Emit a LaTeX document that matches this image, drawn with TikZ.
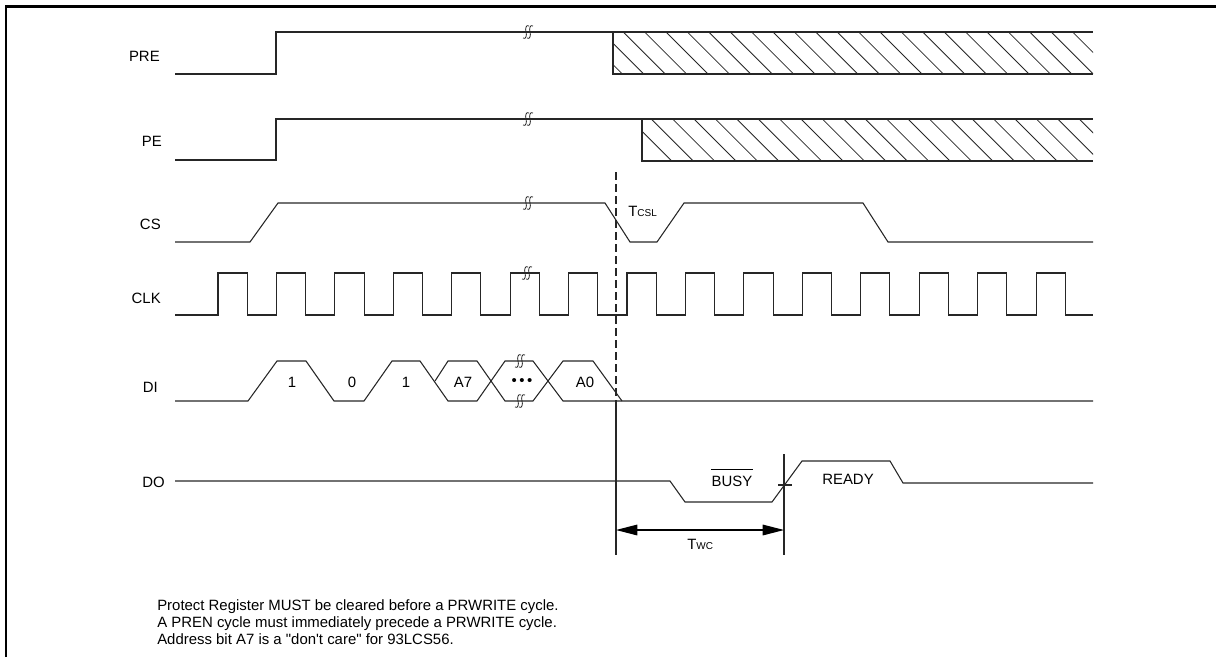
\documentclass[tikz,border=0pt]{standalone}
\usepackage{fontspec}
\setmainfont{Liberation Sans}[Ligatures=TeXOff]
\usetikzlibrary{arrows.meta}

\begin{document}
\begin{tikzpicture}[
  x=0.75pt, y=-0.75pt,
  font=\fontsize{11.2}{12.8}\selectfont,
  wave/.style={line width=0.8pt, black!85},
  hatch/.style={line width=0.6pt, black!85},
  frame/.style={line width=2.2pt},
  lbl/.style={anchor=east, inner sep=0pt},
  val/.style={inner sep=0pt},
  note/.style={anchor=base west, inner sep=0pt},
  guide/.style={line width=0.8pt, black!85},
  dashedguide/.style={line width=0.8pt, black!85, dash pattern=on 6pt off 3pt},
  dim/.style={{Triangle[length=16pt,width=8pt]}-{Triangle[length=16pt,width=8pt]}, line width=0.8pt},
  brk/.pic={\draw[line width=0.6pt, black!85]
      (-5,6) .. controls (-2,8) and (-1,3) .. (-2,0) .. controls (-3,-3) and (-2,-8) .. (1,-6)
      (-1,6) .. controls (2,8) and (3,3) .. (2,0) .. controls (1,-3) and (2,-8) .. (5,-6);}
]
  \useasboundingbox (0,0) rectangle (1216,657);
  \draw[frame] (6,657) -- (6,6.5) -- (1216,6.5);

  \node[lbl] (pre) at (160,56) {PRE};
  \node[lbl] (pe) at (162,141.5) {PE};
  \node[lbl] (cs) at (161,224) {CS};
  \node[lbl] (clk) at (161,298) {CLK};
  \node[lbl] (di) at (158,387) {DI};
  \node[lbl] (do) at (165,482) {DO};

  \begin{scope}
    \clip (613,32) rectangle (1093,74);
    \foreach \i in {0,...,24} \draw[hatch] ({580.4+21.4*\i},32) -- ++(42,42);
  \end{scope}
  \begin{scope}
    \clip (642,119) rectangle (1093,161);
    \foreach \i in {0,...,22} \draw[hatch] ({629.8+21.4*\i},119) -- ++(42,42);
  \end{scope}

  \draw[wave] (175,74) -- (276,74) -- (276,32) -- (1093,32);
  \draw[wave] (613,32) -- (613,74) -- (1093,74);
  \draw[wave] (175,160) -- (276,160) -- (276,119) -- (1093,119);
  \draw[wave] (642,119) -- (642,161) -- (1093,161);

  \draw[wave] (175,242) -- (250,242) -- (278,203) -- (605,203) -- (630,242) -- (657,242)
    -- (684,203) -- (863,203) -- (888,242) -- (1093,242);

  \draw[wave] (175,315) \foreach \k in {0,...,14} {-- ({218+58.43*\k},315) -- ++(0,-42) -- ++(29.2,0) -- ++(0,42)} -- (1093,315);

  \draw[wave] (175,401) -- (248,401) -- (277,361) -- (306,361) -- (334,401) -- (364,401) -- (392,361)
    -- (420,361) -- (448,401) -- (477,401) -- (505,361) -- (533,361) -- (563,401) -- (1093,401);
  \draw[wave] (435,381) -- (448,361) -- (477,361) -- (505,401) -- (533,401) -- (563,361)
    -- (593,361) -- (622,401);

  \draw[wave] (175,481) -- (670,481) -- (685,502) -- (772,502) -- (802,461) -- (890,461)
    -- (903,483) -- (1093,483);

  \foreach \p in {(528,32),(528,119),(528,203),(527,273),(520,361),(520,401)} \pic at \p {brk};

  \node[val] (b1) at (292,382) {1};
  \node[val] (b0) at (352,382) {0};
  \node[val] (b2) at (406,382) {1};
  \node[val] (a7) at (463,382) {A7};
  \node[val] (dots) at (522,382) {\textbullet\,\textbullet\,\textbullet};
  \node[val] (a0) at (585,382) {A0};

  \node[note] (tcsl) at (628,216.5) {T{\fontsize{7.5}{8}\selectfont CSL}};
  \node[val] (busy) at (732,481.5) {BUSY};
  \draw[line width=0.6pt] ([yshift=5pt]busy.north west) -- ([yshift=5pt]busy.north east);
  \node[val] (ready) at (848,479) {READY};

  \coordinate (csl) at (616,172);
  \coordinate (dil) at (616,401);
  \coordinate (twa) at (616,555);
  \coordinate (twb) at (784,555);
  \draw[dashedguide] (csl) -- (dil);
  \draw[guide] (dil) -- (twa);
  \draw[guide] (784,454) -- (twb);
  \draw[guide] (778,485) -- (792,485);
  \draw[dim] (616,530) -- (784,530);
  \node[note] (twc) at (687,549) {T{\fontsize{7.5}{8}\selectfont WC}};

  \node[note] (n1) at (157,610.5) {Protect Register MUST be cleared before a PRWRITE cycle.};
  \node[note] (n2) at (157,627.5) {A PREN cycle must immediately precede a PRWRITE cycle.};
  \node[note] (n3) at (157,644.5) {Address bit A7 is a "don't care" for 93LCS56.};
\end{tikzpicture}
\end{document}
